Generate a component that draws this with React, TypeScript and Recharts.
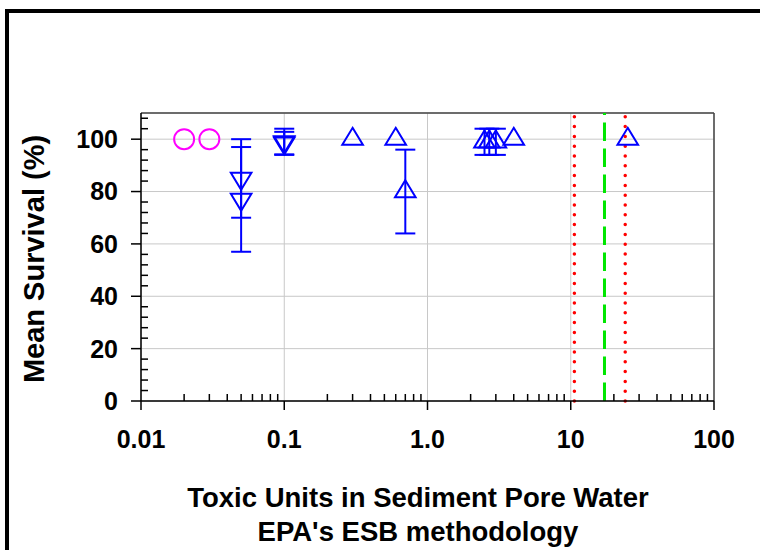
import React from 'react';
import {
  ScatterChart,
  Scatter,
  XAxis,
  YAxis,
  CartesianGrid,
  ErrorBar,
  ReferenceLine,
} from 'recharts';

// axis ticks
const xTicks = [0.01, 0.1, 1, 10, 100];
const xTickLabels = ['0.01', '0.1', '1.0', '10', '100'];
const xMinorTicks = [
  0.02, 0.03, 0.04, 0.05, 0.06, 0.07, 0.08, 0.09,
  0.2, 0.3, 0.4, 0.5, 0.6, 0.7, 0.8, 0.9,
  2, 3, 4, 5, 6, 7, 8, 9,
  20, 30, 40, 50, 60, 70, 80, 90,
];
const yTicks = [0, 20, 40, 60, 80, 100];
const yMinorTicks = [
  4, 8, 12, 16, 24, 28, 32, 36, 44, 48, 52, 56, 64, 68, 72, 76, 84, 88, 92, 96, 104, 108,
];

// magenta circles
const circleTU = [0.02, 0.03];
const circleSurv = [100, 100];

// down triangles (with error bars)
const downTU = [0.05, 0.05, 0.1, 0.1];
const downSurv = [85, 77, 99, 98.5];
const downErr = [15, 20, 5, 4.3];

// up triangles with error bars
const upErrTU = [0.7, 2.5, 2.7, 3.0];
const upErrSurv = [80, 99, 99, 99];
const upErrErr = [16, 5, 5, 5];

// up triangles without error bars
const upTU = [0.3, 0.6, 4.0, 25];
const upSurv = [100, 100, 100, 100];

// ESB lines
const esbLow = 10.6;
const esbMid = 17.2;
const esbHigh = 24;

const BLUE = '#0000ff';
const FONT = '"Liberation Sans", Arial, Helvetica, sans-serif';

const toPoints = (xs: number[], ys: number[], errs?: number[]) =>
  xs.map((x, i) => ({ x, y: ys[i], err: errs ? errs[i] : undefined }));

const circleData = toPoints(circleTU, circleSurv);
const downData = toPoints(downTU, downSurv, downErr);
const upErrData = toPoints(upErrTU, upErrSurv, upErrErr);
const upData = toPoints(upTU, upSurv);

const TW = 10.3;
const TH = 17;

const UpTri = (p: any) => {
  const { cx, cy } = p;
  const d = `M${cx},${cy - (2 * TH) / 3} L${cx + TW},${cy + TH / 3} L${cx - TW},${cy + TH / 3} Z`;
  return <path d={d} fill="none" stroke={BLUE} strokeWidth={2} strokeLinejoin="miter" />;
};

const DownTri = (p: any) => {
  const { cx, cy } = p;
  const d = `M${cx},${cy + (2 * TH) / 3} L${cx + TW},${cy - TH / 3} L${cx - TW},${cy - TH / 3} Z`;
  return <path d={d} fill="none" stroke={BLUE} strokeWidth={2} strokeLinejoin="miter" />;
};

const Ring = (p: any) => (
  <circle cx={p.cx} cy={p.cy} r={10} fill="none" stroke="#ff00ff" strokeWidth={2} />
);

const NoLabel = () => <g />;

const tickStyle = { fill: '#000', fontSize: 25, fontWeight: 'bold', fontFamily: FONT };

export default function App() {
  return (
    <div
      style={{
        position: 'fixed',
        left: 0,
        top: 0,
        width: 760,
        height: 550,
        overflow: 'hidden',
        background: '#fff',
        fontFamily: FONT,
      }}
    >
      {/* outer frame, runs off the right and bottom edge */}
      <div
        style={{
          position: 'absolute',
          left: 5,
          top: 9,
          width: 900,
          height: 700,
          border: '4px solid #000',
          boxSizing: 'border-box',
        }}
      />

      <div style={{ position: 'absolute', left: 0, top: 0 }}>
        <ScatterChart width={760} height={550} margin={{ top: 113, right: 46, bottom: 99, left: 81 }}>
          <CartesianGrid stroke="#c8c8c8" strokeWidth={1} />

          <XAxis
            type="number"
            dataKey="x"
            scale="log"
            domain={[0.01, 100]}
            ticks={xTicks}
            interval={0}
            allowDataOverflow
            tickFormatter={(v: number) => xTickLabels[xTicks.indexOf(v)] ?? String(v)}
            height={50}
            tickSize={9}
            tickMargin={20}
            tick={tickStyle}
            axisLine={{ stroke: '#000', strokeWidth: 1.5 }}
            tickLine={{ stroke: '#000', strokeWidth: 1.5 }}
          />
          <XAxis
            xAxisId="minor"
            type="number"
            dataKey="x"
            scale="log"
            domain={[0.01, 100]}
            ticks={xMinorTicks}
            interval={0}
            allowDataOverflow
            mirror
            height={1}
            tickSize={7}
            tick={NoLabel}
            axisLine={false}
            tickLine={{ stroke: '#000', strokeWidth: 1.5 }}
          />
          <YAxis
            type="number"
            dataKey="y"
            domain={[0, 110]}
            ticks={yTicks}
            interval={0}
            allowDataOverflow
            width={60}
            tickSize={10}
            tickMargin={13}
            tick={tickStyle}
            axisLine={{ stroke: '#000', strokeWidth: 1.5 }}
            tickLine={{ stroke: '#000', strokeWidth: 1.5 }}
          />
          <YAxis
            yAxisId="minor"
            type="number"
            dataKey="y"
            domain={[0, 110]}
            ticks={yMinorTicks}
            interval={0}
            allowDataOverflow
            mirror
            width={1}
            tickSize={7}
            tick={NoLabel}
            axisLine={false}
            tickLine={{ stroke: '#000', strokeWidth: 1.5 }}
          />

          {/* frame of the plot area */}
          <ReferenceLine y={110} stroke="#444" strokeWidth={1.5} />
          <ReferenceLine x={100} stroke="#444" strokeWidth={1.5} />

          <ReferenceLine
            x={esbLow}
            stroke="#ff0000"
            strokeWidth={3.5}
            strokeDasharray="0 9.8"
            strokeLinecap="round"
          />
          <ReferenceLine x={esbMid} stroke="#00e600" strokeWidth={3} strokeDasharray="18.5 7.5" />
          <ReferenceLine
            x={esbHigh}
            stroke="#ff0000"
            strokeWidth={3.5}
            strokeDasharray="0 9.8"
            strokeLinecap="round"
          />

          <Scatter data={circleData} shape={Ring} isAnimationActive={false} />
          <Scatter data={downData} shape={DownTri} isAnimationActive={false}>
            <ErrorBar dataKey="err" direction="y" width={10} stroke={BLUE} strokeWidth={2} />
          </Scatter>
          <Scatter data={upErrData} shape={UpTri} isAnimationActive={false}>
            <ErrorBar dataKey="err" direction="y" width={10} stroke={BLUE} strokeWidth={2} />
          </Scatter>
          <Scatter data={upData} shape={UpTri} isAnimationActive={false} />
        </ScatterChart>
      </div>

      {/* axis titles */}
      <div
        style={{
          position: 'absolute',
          left: 34,
          top: 259,
          transform: 'translate(-50%, -50%) rotate(-90deg)',
          whiteSpace: 'nowrap',
          fontSize: 29,
          fontWeight: 'bold',
          color: '#000',
        }}
      >
        Mean Survival (%)
      </div>
      <div
        style={{
          position: 'absolute',
          left: 118,
          width: 600,
          top: 481,
          textAlign: 'center',
          fontSize: 27.5,
          fontWeight: 'bold',
          lineHeight: '34px',
          color: '#000',
        }}
      >
        Toxic Units in Sediment Pore Water
        <br />
        EPA's ESB methodology
      </div>
    </div>
  );
}
